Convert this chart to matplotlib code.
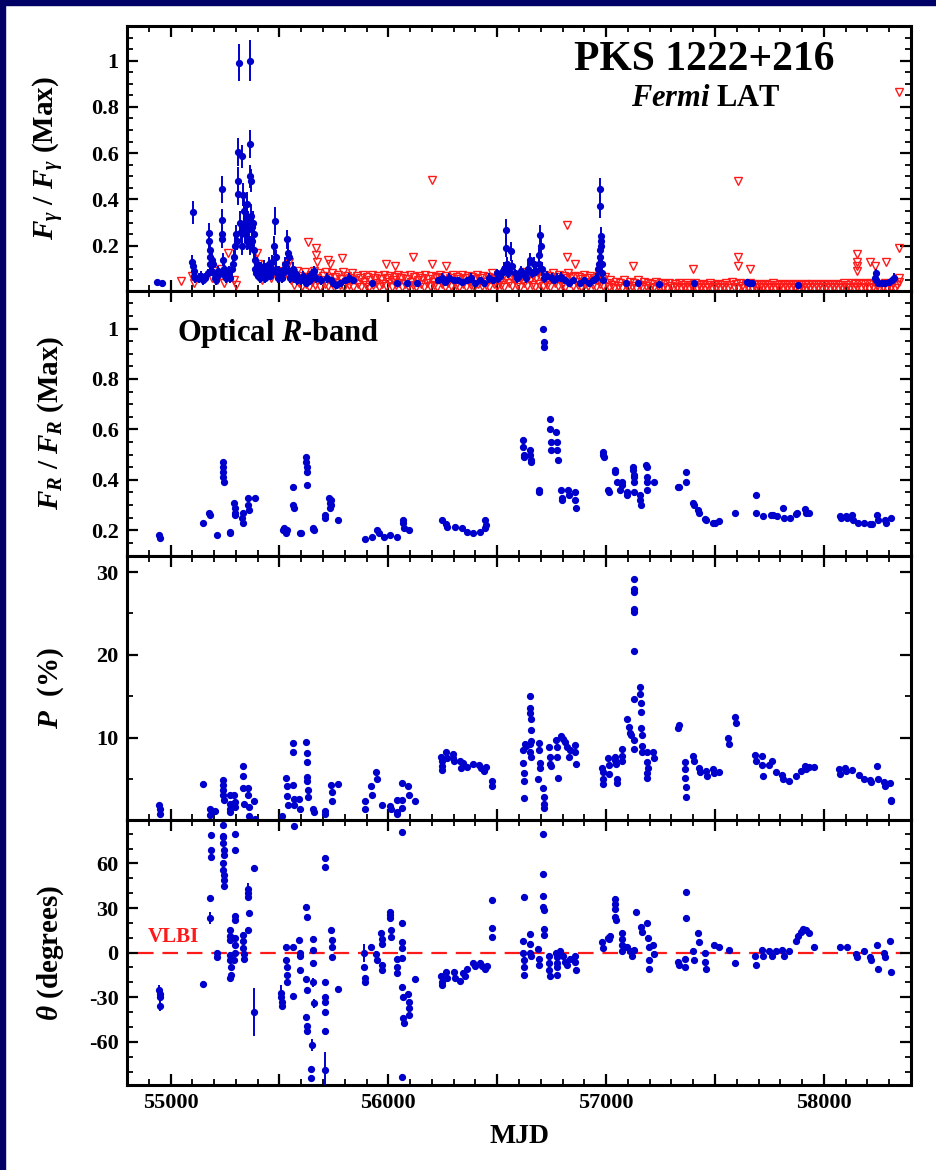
import numpy as np
import matplotlib
matplotlib.use("Agg")
import matplotlib.pyplot as plt
from matplotlib.ticker import MultipleLocator, FixedLocator, FuncFormatter
from matplotlib.patches import Rectangle

# ---- data ----
# Fermi LAT detections: (MJD, F/Fmax, error)
gamma_det = [
    (54936, 0.042, 0.008), (54962, 0.040, 0.008),
    (55100, 0.13, 0.03), (55103, 0.11, 0.03), (55104, 0.345, 0.05), (55106, 0.09, 0.02),
    (55108, 0.07, 0.02), (55112, 0.06, 0.02), (55130, 0.06, 0.02), (55140, 0.07, 0.02),
    (55150, 0.05, 0.02), (55160, 0.06, 0.02), (55170, 0.08, 0.02), (55177, 0.256, 0.04),
    (55178, 0.22, 0.03), (55179, 0.18, 0.03), (55180, 0.15, 0.03), (55182, 0.12, 0.03),
    (55186, 0.09, 0.02), (55192, 0.14, 0.03), (55196, 0.12, 0.03), (55200, 0.08, 0.02),
    (55205, 0.06, 0.02), (55210, 0.05, 0.02), (55215, 0.07, 0.02), (55220, 0.09, 0.02),
    (55225, 0.08, 0.02), (55234, 0.443, 0.06), (55234, 0.31, 0.05), (55236, 0.25, 0.04),
    (55237, 0.23, 0.04), (55240, 0.14, 0.03), (55245, 0.10, 0.03), (55250, 0.07, 0.02),
    (55255, 0.06, 0.02), (55260, 0.08, 0.02), (55265, 0.07, 0.02), (55270, 0.09, 0.02),
    (55275, 0.06, 0.02), (55280, 0.10, 0.03), (55285, 0.12, 0.03), (55290, 0.15, 0.03),
    (55295, 0.20, 0.04), (55300, 0.25, 0.04), (55305, 0.22, 0.04), (55308, 0.606, 0.06),
    (55311, 0.479, 0.06), (55311, 0.424, 0.05), (55314, 0.99, 0.08), (55318, 0.30, 0.05),
    (55322, 0.26, 0.04), (55326, 0.20, 0.04), (55330, 0.587, 0.05), (55332, 0.42, 0.05),
    (55335, 0.28, 0.04), (55338, 0.35, 0.05), (55341, 0.30, 0.04), (55344, 0.25, 0.04),
    (55347, 0.32, 0.05), (55350, 0.22, 0.04), (55353, 0.38, 0.05), (55356, 0.30, 0.05),
    (55360, 0.27, 0.04), (55363, 0.20, 0.04), (55365, 1.00, 0.09), (55366, 0.641, 0.06),
    (55367, 0.50, 0.05), (55369, 0.48, 0.05), (55370, 0.33, 0.05), (55372, 0.28, 0.04),
    (55375, 0.22, 0.04), (55378, 0.30, 0.05), (55381, 0.18, 0.04), (55384, 0.25, 0.04),
    (55387, 0.14, 0.03), (55390, 0.10, 0.03), (55393, 0.08, 0.02), (55396, 0.12, 0.03),
    (55400, 0.07, 0.02), (55405, 0.09, 0.02), (55410, 0.06, 0.02), (55415, 0.10, 0.03),
    (55420, 0.08, 0.02), (55425, 0.07, 0.02), (55430, 0.11, 0.03), (55435, 0.06, 0.02),
    (55440, 0.09, 0.02), (55445, 0.08, 0.02), (55450, 0.12, 0.03), (55455, 0.07, 0.02),
    (55460, 0.10, 0.03), (55465, 0.13, 0.03), (55470, 0.09, 0.02), (55475, 0.20, 0.04),
    (55479, 0.306, 0.06), (55482, 0.15, 0.03), (55485, 0.10, 0.03), (55490, 0.08, 0.02),
    (55495, 0.06, 0.02), (55500, 0.09, 0.02), (55505, 0.07, 0.02), (55510, 0.06, 0.02),
    (55515, 0.08, 0.02), (55520, 0.10, 0.03), (55525, 0.12, 0.03), (55533, 0.227, 0.04),
    (55538, 0.17, 0.04), (55542, 0.15, 0.03), (55546, 0.09, 0.02), (55550, 0.06, 0.02),
    (55555, 0.07, 0.02), (55560, 0.10, 0.03), (55565, 0.06, 0.02), (55570, 0.08, 0.02),
    (55580, 0.05, 0.02), (55590, 0.06, 0.02), (55600, 0.05, 0.02), (55610, 0.07, 0.02),
    (55620, 0.04, 0.01), (55630, 0.06, 0.02), (55640, 0.05, 0.02), (55650, 0.08, 0.02),
    (55660, 0.09, 0.02), (55670, 0.06, 0.02), (55690, 0.05, 0.02), (55720, 0.06, 0.02),
    (55735, 0.05, 0.01), (55745, 0.04, 0.01), (55760, 0.03, 0.01), (55780, 0.04, 0.01),
    (55800, 0.05, 0.01), (55820, 0.06, 0.02), (55840, 0.05, 0.01), (55924, 0.04, 0.01),
    (56040, 0.038, 0.01), (56087, 0.037, 0.01), (56132, 0.04, 0.01), (56230, 0.05, 0.01),
    (56245, 0.06, 0.02), (56260, 0.045, 0.01), (56280, 0.06, 0.02), (56300, 0.05, 0.01),
    (56320, 0.05, 0.01), (56340, 0.045, 0.01), (56360, 0.05, 0.01), (56380, 0.06, 0.02),
    (56400, 0.04, 0.01), (56420, 0.05, 0.01), (56440, 0.04, 0.01), (56460, 0.06, 0.02),
    (56480, 0.05, 0.01), (56498, 0.08, 0.02), (56505, 0.06, 0.02), (56515, 0.07, 0.02),
    (56525, 0.09, 0.02), (56530, 0.10, 0.03), (56540, 0.267, 0.05), (56541, 0.19, 0.04),
    (56545, 0.12, 0.03), (56550, 0.08, 0.02), (56556, 0.10, 0.03), (56563, 0.175, 0.04),
    (56570, 0.11, 0.03), (56580, 0.08, 0.02), (56590, 0.06, 0.02), (56600, 0.07, 0.02),
    (56610, 0.09, 0.02), (56620, 0.08, 0.02), (56630, 0.06, 0.02), (56640, 0.10, 0.03),
    (56650, 0.14, 0.03), (56660, 0.08, 0.02), (56669, 0.12, 0.03), (56680, 0.09, 0.02),
    (56690, 0.16, 0.03), (56693, 0.12, 0.03), (56697, 0.248, 0.04), (56699, 0.20, 0.04),
    (56705, 0.10, 0.03), (56715, 0.06, 0.02), (56730, 0.07, 0.02), (56750, 0.06, 0.02),
    (56760, 0.05, 0.01), (56775, 0.06, 0.02), (56794, 0.065, 0.02), (56810, 0.05, 0.01),
    (56830, 0.04, 0.01), (56850, 0.05, 0.01), (56880, 0.04, 0.01), (56900, 0.05, 0.01),
    (56920, 0.04, 0.01), (56940, 0.05, 0.01), (56955, 0.06, 0.02), (56965, 0.10, 0.03),
    (56968, 0.12, 0.03), (56970, 0.15, 0.03), (56972, 0.18, 0.04), (56973, 0.443, 0.05),
    (56974, 0.37, 0.05), (56975, 0.24, 0.04), (56976, 0.22, 0.04), (56977, 0.20, 0.04),
    (56979, 0.12, 0.03), (56982, 0.08, 0.02), (56986, 0.05, 0.01), (57090, 0.04, 0.01),
    (57146, 0.038, 0.01), (57245, 0.035, 0.01), (57402, 0.038, 0.01), (57647, 0.045, 0.01),
    (57655, 0.04, 0.01), (57670, 0.04, 0.01), (57883, 0.03, 0.01), (58235, 0.06, 0.02),
    (58237, 0.08, 0.02), (58240, 0.05, 0.01), (58250, 0.04, 0.01), (58265, 0.04, 0.01),
    (58280, 0.04, 0.01), (58300, 0.045, 0.01), (58315, 0.05, 0.01), (58321, 0.06, 0.02),
]

# Fermi LAT upper limits: (MJD, F/Fmax)
gamma_ul = [
    (55050, 0.047), (55100, 0.07), (55106, 0.04), (55190, 0.06), (55200, 0.09), (55215, 0.05),
    (55230, 0.10), (55245, 0.04), (55255, 0.08), (55265, 0.17), (55275, 0.09), (55290, 0.05),
    (55300, 0.03), (55395, 0.17), (55400, 0.12), (55410, 0.08), (55420, 0.05), (55440, 0.10),
    (55460, 0.06), (55490, 0.09), (55520, 0.07), (55530, 0.11), (55545, 0.13),
    (55632, 0.217), (55668, 0.19), (55670, 0.16), (55672, 0.13), (55725, 0.14), (55732, 0.12),
    (55786, 0.145), (55989, 0.12), (56032, 0.11), (56115, 0.15), (56200, 0.486), (56200, 0.12),
    (56265, 0.11), (56820, 0.289), (56820, 0.15), (56857, 0.12), (57123, 0.11), (57400, 0.10),
    (57606, 0.479), (57606, 0.15), (57606, 0.11), (57661, 0.10), (58150, 0.162), (58150, 0.13),
    (58152, 0.11), (58150, 0.09), (58214, 0.13), (58236, 0.11), (58283, 0.13), (58344, 0.863),
    (58344, 0.19), (58347, 0.06),
    (55552, 0.05), (55560, 0.08), (55567, 0.03), (55574, 0.06), (55581, 0.09), (55588, 0.04),
    (55595, 0.07), (55602, 0.025), (55609, 0.055), (55616, 0.085), (55623, 0.035), (55630, 0.065),
    (55637, 0.02), (55644, 0.075), (55651, 0.045), (55658, 0.09), (55665, 0.03), (55672, 0.06),
    (55679, 0.08), (55686, 0.02), (55693, 0.05), (55700, 0.07), (55707, 0.035), (55714, 0.085),
    (55721, 0.025), (55728, 0.06), (55735, 0.045), (55742, 0.08), (55749, 0.02), (55756, 0.065),
    (55763, 0.04), (55770, 0.075), (55777, 0.03), (55784, 0.055), (55791, 0.085), (55798, 0.02),
    (55805, 0.045), (55812, 0.07), (55819, 0.03), (55826, 0.06), (55833, 0.08), (55840, 0.02),
    (55847, 0.05), (55854, 0.07), (55861, 0.035), (55868, 0.06), (55875, 0.02), (55882, 0.075),
    (55889, 0.045), (55896, 0.03), (55903, 0.065), (55910, 0.02), (55917, 0.05), (55924, 0.075),
    (55931, 0.03), (55938, 0.06), (55945, 0.04), (55952, 0.07), (55959, 0.02), (55966, 0.055),
    (55973, 0.035), (55980, 0.075), (55987, 0.025), (55994, 0.06), (56001, 0.045), (56008, 0.07),
    (56015, 0.02), (56022, 0.05), (56029, 0.065), (56036, 0.03), (56043, 0.075), (56050, 0.04),
    (56057, 0.06), (56064, 0.02), (56071, 0.07), (56078, 0.035), (56085, 0.055), (56092, 0.025),
    (56099, 0.075), (56106, 0.045), (56113, 0.03), (56120, 0.065), (56127, 0.02), (56134, 0.05),
    (56141, 0.07), (56148, 0.035), (56155, 0.06), (56162, 0.02), (56169, 0.075), (56176, 0.04),
    (56183, 0.055), (56190, 0.025), (56197, 0.07), (56204, 0.045), (56211, 0.03), (56218, 0.065),
    (56225, 0.02), (56232, 0.06), (56239, 0.075), (56246, 0.035), (56253, 0.05), (56260, 0.02),
    (56267, 0.07), (56274, 0.04), (56281, 0.06), (56288, 0.025), (56295, 0.075), (56302, 0.045),
    (56309, 0.03), (56316, 0.065), (56323, 0.02), (56330, 0.055), (56337, 0.075), (56344, 0.035),
    (56351, 0.06), (56358, 0.02), (56365, 0.07), (56372, 0.045), (56379, 0.03), (56386, 0.065),
    (56393, 0.02), (56400, 0.055), (56407, 0.075), (56414, 0.035), (56421, 0.06), (56428, 0.025),
    (56435, 0.07), (56442, 0.045), (56449, 0.03), (56456, 0.065), (56463, 0.02), (56470, 0.055),
    (56477, 0.08), (56484, 0.035), (56491, 0.06), (56498, 0.025), (56505, 0.075), (56512, 0.045),
    (56519, 0.03), (56526, 0.07), (56533, 0.02), (56540, 0.06), (56547, 0.08), (56554, 0.04),
    (56561, 0.065), (56568, 0.025), (56575, 0.075), (56582, 0.05), (56589, 0.03), (56596, 0.07),
    (56603, 0.02), (56610, 0.06), (56617, 0.085), (56624, 0.04), (56631, 0.065), (56638, 0.025),
    (56645, 0.075), (56652, 0.05), (56659, 0.03), (56666, 0.07), (56673, 0.02), (56680, 0.06),
    (56687, 0.08), (56694, 0.035), (56701, 0.065), (56708, 0.025), (56715, 0.075), (56722, 0.045),
    (56729, 0.03), (56736, 0.07), (56743, 0.02), (56750, 0.06), (56757, 0.08), (56764, 0.04),
    (56771, 0.065), (56778, 0.025), (56785, 0.075), (56792, 0.05), (56799, 0.03), (56806, 0.07),
    (56813, 0.02), (56820, 0.06), (56827, 0.08), (56834, 0.04), (56841, 0.065), (56848, 0.025),
    (56855, 0.07), (56862, 0.045), (56869, 0.03), (56876, 0.065), (56883, 0.02), (56890, 0.055),
    (56897, 0.075), (56904, 0.035), (56911, 0.06), (56918, 0.025), (56925, 0.07), (56932, 0.045),
    (56939, 0.03), (56946, 0.06), (56953, 0.02), (56960, 0.05), (56967, 0.07), (56974, 0.035),
    (56981, 0.055), (56988, 0.025), (56995, 0.065),
    (57002, 0.04), (57011, 0.02), (57020, 0.05), (57029, 0.03), (57038, 0.015), (57047, 0.045),
    (57056, 0.025), (57065, 0.04), (57074, 0.015), (57083, 0.05), (57092, 0.03), (57101, 0.02),
    (57110, 0.045), (57119, 0.025), (57128, 0.04), (57137, 0.015), (57146, 0.05), (57155, 0.03),
    (57164, 0.02), (57173, 0.045), (57182, 0.025), (57191, 0.04), (57200, 0.015), (57209, 0.035),
    (57218, 0.02), (57227, 0.045), (57236, 0.025), (57245, 0.015), (57254, 0.04), (57263, 0.02),
    (57272, 0.035), (57281, 0.015), (57290, 0.04), (57299, 0.025), (57308, 0.015), (57317, 0.035),
    (57326, 0.02), (57335, 0.04), (57344, 0.015), (57353, 0.03), (57362, 0.02), (57371, 0.04),
    (57380, 0.015), (57389, 0.03), (57398, 0.02), (57407, 0.04), (57416, 0.015), (57425, 0.03),
    (57434, 0.02), (57443, 0.035), (57452, 0.015), (57461, 0.03), (57470, 0.02), (57479, 0.04),
    (57488, 0.015), (57497, 0.03), (57506, 0.02), (57515, 0.035), (57524, 0.015), (57533, 0.03),
    (57542, 0.02), (57551, 0.04), (57560, 0.015), (57569, 0.03), (57578, 0.045), (57587, 0.02),
    (57596, 0.035), (57605, 0.015), (57614, 0.04), (57623, 0.025), (57632, 0.015), (57641, 0.035),
    (57650, 0.02), (57659, 0.04), (57668, 0.015), (57677, 0.03), (57686, 0.02), (57695, 0.035),
    (57704, 0.015), (57713, 0.03), (57722, 0.02), (57731, 0.035), (57740, 0.015), (57749, 0.03),
    (57758, 0.02), (57767, 0.04), (57776, 0.015), (57785, 0.03), (57794, 0.02), (57803, 0.035),
    (57812, 0.015), (57821, 0.03), (57830, 0.02), (57839, 0.035), (57848, 0.015), (57857, 0.03),
    (57866, 0.02), (57875, 0.035), (57884, 0.015), (57893, 0.03), (57902, 0.02), (57911, 0.035),
    (57920, 0.015), (57929, 0.03), (57938, 0.02), (57947, 0.035), (57956, 0.015), (57965, 0.03),
    (57974, 0.02), (57983, 0.035), (57992, 0.015), (58001, 0.03), (58010, 0.02), (58019, 0.035),
    (58028, 0.015), (58037, 0.03), (58046, 0.02), (58055, 0.035), (58064, 0.015), (58073, 0.03),
    (58082, 0.02), (58091, 0.04), (58100, 0.015), (58109, 0.03), (58118, 0.02), (58127, 0.04),
    (58136, 0.015), (58145, 0.035), (58154, 0.02), (58163, 0.04), (58172, 0.015), (58181, 0.035),
    (58190, 0.02), (58199, 0.04), (58208, 0.015), (58217, 0.035), (58226, 0.02), (58235, 0.04),
    (58244, 0.025), (58253, 0.015), (58262, 0.035), (58271, 0.02), (58280, 0.04), (58289, 0.015),
    (58298, 0.035), (58307, 0.02), (58316, 0.04), (58325, 0.015), (58334, 0.03), (58343, 0.045),
]

# Optical R-band: (MJD, F/Fmax)
optical = [
    (54948, 0.18), (54952, 0.17), (55150, 0.23), (55178, 0.27), (55182, 0.26), (55211, 0.18),
    (55240, 0.47), (55241, 0.45), (55242, 0.43), (55243, 0.41), (55244, 0.39),
    (55271, 0.195), (55274, 0.19), (55293, 0.31), (55294, 0.29), (55296, 0.27), (55297, 0.26),
    (55329, 0.25), (55331, 0.23), (55333, 0.27), (55355, 0.33), (55357, 0.30), (55359, 0.28),
    (55387, 0.33), (55515, 0.20), (55520, 0.21), (55530, 0.19), (55534, 0.20),
    (55561, 0.37), (55563, 0.30), (55565, 0.29), (55594, 0.19), (55597, 0.19),
    (55623, 0.49), (55624, 0.47), (55625, 0.45), (55626, 0.43), (55628, 0.38),
    (55652, 0.21), (55656, 0.205), (55660, 0.20), (55707, 0.26), (55711, 0.25),
    (55729, 0.33), (55731, 0.31), (55733, 0.29), (55735, 0.32), (55737, 0.30), (55770, 0.24),
    (55893, 0.165), (55924, 0.175), (55950, 0.20), (55955, 0.19), (55978, 0.175), (56009, 0.18),
    (56040, 0.175), (56066, 0.24), (56068, 0.23), (56071, 0.21), (56093, 0.20),
    (56245, 0.24), (56266, 0.225), (56270, 0.215), (56307, 0.215), (56338, 0.21), (56360, 0.195),
    (56391, 0.19), (56421, 0.195), (56442, 0.21), (56445, 0.24), (56448, 0.22),
    (56619, 0.56), (56620, 0.53), (56622, 0.49), (56624, 0.50),
    (56649, 0.52), (56651, 0.50), (56653, 0.47), (56655, 0.48), (56691, 0.36), (56694, 0.35),
    (56712, 1.00), (56713, 0.945), (56714, 0.925),
    (56741, 0.64), (56743, 0.60), (56745, 0.55), (56746, 0.52),
    (56772, 0.59), (56774, 0.55), (56776, 0.52), (56777, 0.48),
    (56795, 0.36), (56797, 0.33), (56799, 0.32), (56825, 0.36), (56829, 0.34),
    (56856, 0.35), (56858, 0.32), (56860, 0.29),
    (56986, 0.51), (56988, 0.50), (56990, 0.49), (57009, 0.36), (57013, 0.35),
    (57040, 0.44), (57043, 0.43), (57049, 0.39), (57065, 0.36), (57071, 0.39), (57075, 0.38),
    (57094, 0.35), (57098, 0.34),
    (57124, 0.45), (57125, 0.44), (57126, 0.42), (57127, 0.41), (57128, 0.39), (57129, 0.35),
    (57155, 0.34), (57157, 0.32), (57160, 0.30),
    (57185, 0.46), (57187, 0.45), (57188, 0.41), (57189, 0.39), (57190, 0.36), (57218, 0.39),
    (57331, 0.37), (57335, 0.37), (57367, 0.43), (57369, 0.39), (57400, 0.31), (57404, 0.30),
    (57423, 0.28), (57427, 0.27), (57454, 0.245), (57458, 0.24), (57492, 0.23), (57500, 0.23),
    (57517, 0.235), (57594, 0.27), (57686, 0.34), (57690, 0.27), (57721, 0.255), (57755, 0.26),
    (57765, 0.26), (57785, 0.255), (57813, 0.29), (57817, 0.25), (57846, 0.25), (57870, 0.265),
    (57877, 0.27), (57912, 0.285), (57916, 0.27), (57930, 0.27),
    (58073, 0.255), (58078, 0.25), (58100, 0.255), (58107, 0.25), (58128, 0.26), (58132, 0.24),
    (58156, 0.23), (58183, 0.23), (58210, 0.225), (58220, 0.225), (58246, 0.26), (58250, 0.24),
    (58280, 0.24), (58285, 0.23), (58306, 0.25),
]

# Degree of polarization: (MJD, P %)
pol_deg = [
    (54949, 1.8), (54951, 1.3), (54953, 0.8), (55150, 4.35), (55179, 1.4), (55181, 0.6),
    (55204, 1.1), (55240, 4.9), (55241, 4.3), (55242, 3.6), (55243, 3.0), (55244, 2.4),
    (55271, 3.0), (55272, 2.0), (55274, 1.4), (55275, 1.0), (55293, 3.1), (55295, 2.2),
    (55297, 1.6), (55332, 6.5), (55333, 5.3), (55334, 3.9), (55336, 2.0), (55355, 3.9),
    (55357, 3.0), (55359, 1.6), (55358, 0.5), (55385, 2.3), (55388, 0.2), (55510, 0.5),
    (55531, 5.1), (55533, 4.1), (55535, 2.9), (55537, 1.9), (55561, 9.3), (55562, 8.3),
    (55564, 4.3), (55566, 2.6), (55568, 1.8), (55592, 2.6), (55596, 1.4),
    (55624, 9.5), (55625, 8.1), (55626, 7.0), (55627, 5.2), (55628, 4.7), (55629, 3.7),
    (55630, 2.8), (55652, 1.4), (55657, 1.0), (55707, 1.1), (55711, 0.8),
    (55738, 4.3), (55740, 3.4), (55742, 2.3), (55770, 4.35), (55891, 2.3), (55894, 1.3),
    (55922, 4.1), (55925, 3.1), (55945, 5.8), (55948, 5.0), (55970, 1.8), (56007, 1.7),
    (56011, 1.3), (56038, 2.4), (56040, 1.0), (56042, 0.8), (56061, 4.5), (56063, 2.5),
    (56065, 1.5), (56091, 4.2), (56094, 3.0), (56124, 2.3),
    (56243, 7.7), (56245, 7.2), (56246, 6.5), (56248, 6.1), (56266, 8.3), (56270, 7.5),
    (56296, 8.0), (56299, 7.5), (56302, 7.2), (56328, 7.2), (56332, 6.3), (56345, 6.9),
    (56360, 6.4), (56391, 6.8), (56415, 6.7), (56425, 6.3), (56440, 5.9), (56450, 6.4),
    (56474, 4.7), (56476, 4.2),
    (56619, 8.5), (56620, 6.9), (56621, 5.7), (56622, 4.7), (56623, 2.7), (56628, 9.2),
    (56630, 9.0), (56650, 15.0), (56651, 13.6), (56652, 13.0), (56653, 12.2), (56654, 10.9),
    (56655, 9.6), (56649, 9.2), (56652, 8.3), (56655, 7.7), (56688, 5.0), (56692, 9.3),
    (56694, 8.5), (56695, 6.9), (56697, 6.3), (56712, 3.9), (56713, 2.8), (56714, 2.0),
    (56715, 1.5), (56740, 8.8), (56742, 7.6), (56744, 6.8), (56746, 6.5),
    (56772, 9.7), (56774, 8.9), (56776, 7.6), (56778, 5.1), (56795, 10.2), (56800, 9.8),
    (56810, 9.5), (56820, 8.8), (56833, 8.5), (56828, 7.6), (56856, 9.1), (56858, 8.3),
    (56860, 6.8), (56983, 6.3), (56985, 5.8), (56986, 5.0), (56988, 4.4),
    (57009, 7.5), (57011, 6.7), (57013, 5.6), (57040, 7.7), (57043, 7.3), (57046, 6.8),
    (57049, 5.0), (57051, 4.5), (57071, 8.6), (57073, 7.8), (57075, 7.2), (57096, 12.2),
    (57106, 11.3), (57110, 10.6), (57115, 10.3), (57126, 29.1), (57127, 28.0), (57128, 27.6),
    (57126, 25.5), (57127, 25.2), (57128, 20.5), (57128, 14.7), (57129, 9.7), (57130, 8.6),
    (57155, 16.1), (57157, 15.3), (57158, 14.2), (57159, 13.1), (57162, 11.2), (57164, 10.3),
    (57165, 9.0), (57166, 8.3), (57186, 8.3), (57188, 7.1), (57189, 5.7), (57190, 5.1),
    (57192, 6.3), (57216, 8.2), (57220, 7.5),
    (57331, 11.2), (57335, 11.5), (57362, 7.0), (57363, 6.2), (57364, 5.1), (57365, 4.0),
    (57366, 2.8), (57400, 7.8), (57404, 7.2), (57427, 6.3), (57431, 5.8), (57458, 5.9),
    (57462, 5.3), (57492, 6.2), (57496, 5.7), (57517, 5.8), (57561, 9.9), (57564, 9.2),
    (57592, 12.5), (57596, 11.8), (57684, 7.9), (57688, 7.2), (57715, 7.8), (57717, 6.7),
    (57719, 5.3), (57747, 6.7), (57762, 7.2), (57778, 5.8), (57806, 5.5), (57810, 5.0),
    (57839, 4.7), (57870, 5.4), (57893, 5.9), (57913, 6.6), (57917, 6.2), (57930, 6.4),
    (57953, 6.4), (58071, 6.2), (58075, 5.6), (58098, 6.3), (58102, 6.0), (58130, 6.1),
    (58160, 5.5), (58186, 5.0), (58212, 4.9), (58216, 4.6), (58246, 6.6), (58250, 5.0),
    (58276, 4.6), (58280, 4.2), (58304, 4.5), (58306, 2.5), (58308, 2.3),
]

# EVPA: (MJD, theta deg, error)
pol_ang = [
    (54949, -25, 3), (54950, -28, 3), (54951, -30, 3), (54952, -36, 3), (55150, -21, 2),
    (55181, 37, 2), (55181, 23.4, 4), (55184, 79, 2), (55184, 69, 2), (55185, 64.4, 2),
    (55211, 0, 2), (55212, -3, 2),
    (55240, 86, 2), (55241, 78.6, 2), (55242, 77.7, 2), (55243, 73.6, 2), (55244, 69, 2),
    (55245, 65.6, 2), (55241, 60, 2), (55243, 55.5, 2), (55244, 52, 2), (55245, 48.8, 2),
    (55246, 45, 2), (55271, 15, 2), (55272, 11, 2), (55273, 8.5, 2), (55274, -1.7, 2),
    (55275, -5, 2), (55276, -9.9, 2), (55277, -15, 2), (55273, -17, 2), (55294, 80, 2),
    (55296, 69, 2), (55295, 24.5, 2), (55296, 22, 2), (55294, 10, 2), (55297, 5, 2),
    (55298, 0, 2), (55293, -5, 2), (55332, 12, 2), (55333, 8, 2), (55334, 3, 2),
    (55335, -1, 2), (55336, -4, 2), (55355, 43, 4), (55356, 40, 2), (55357, 37.3, 2),
    (55358, 26.6, 2), (55354, 15, 2), (55385, 56.6, 2), (55385, -40, 16),
    (55508, -27, 5), (55509, -30, 2), (55510, -33, 2), (55511, -36, 2), (55531, 4, 2),
    (55532, -5, 2), (55533, -10, 2), (55534, -15, 2), (55536, -20, 2), (55563, 4, 2),
    (55565, 85.3, 2), (55562, -29, 2), (55592, 8.8, 2), (55594, 0, 2), (55595, -2, 2),
    (55596, -12, 2), (55623, 30.8, 2), (55625, 24, 2), (55624, -18, 2), (55626, -25, 2),
    (55624, -43, 2), (55625, -49, 2), (55626, -53, 2), (55648, -62, 4), (55646, -78, 2),
    (55647, -84.6, 2), (55653, 9, 2), (55654, 2, 2), (55655, -7, 2), (55656, -20, 3),
    (55657, -34, 3), (55707, 63.4, 2), (55708, 57.7, 2), (55707, -20, 2), (55708, -30, 2),
    (55709, -33, 2), (55710, -40, 2), (55711, -53, 2), (55709, -79, 12),
    (55738, 15, 2), (55740, 8.5, 2), (55741, 3.5, 2), (55742, -3, 2), (55770, -24.5, 2),
    (55889, 0, 6), (55890, -10, 2), (55891, -17, 2), (55892, -20, 2), (55922, 4, 2),
    (55945, -1, 2), (55948, -5, 2), (55968, 13, 2), (55969, 9, 2), (55970, 5.5, 2),
    (55971, -8, 2), (55972, -12, 2), (56007, 27.4, 2), (56008, 25.3, 2), (56009, 23, 2),
    (56010, 15.2, 2), (56011, 10.5, 2), (56038, -4, 2), (56040, -10, 2), (56042, -14, 2),
    (56062, 81.3, 2), (56061, 20, 2), (56062, 7, 2), (56063, 3, 2), (56064, -3.5, 2),
    (56062, -23, 2), (56064, -83.5, 2), (56067, -30, 2), (56069, -44, 2), (56071, -47, 2),
    (56091, -28, 2), (56093, -33, 2), (56094, -37, 2), (56096, -42, 2), (56124, -18, 2),
    (56243, -16, 2), (56245, -20, 2), (56246, -22, 2), (56266, -13, 2), (56270, -17, 2),
    (56300, -13, 2), (56307, -17, 2), (56330, -19, 2), (56345, -14, 2), (56350, -16, 2),
    (56360, -11, 2), (56391, -7, 2), (56400, -9, 2), (56421, -7, 2), (56430, -9, 2),
    (56445, -11, 2), (56452, -9, 2), (56475, 35.3, 2), (56475, 16.3, 2), (56476, 10.6, 2),
    (56621, 37.5, 2), (56619, 7.6, 2), (56620, 0, 2), (56621, -5, 2), (56622, -10, 2),
    (56623, -15, 2), (56649, 12.5, 2), (56651, 6, 2), (56652, 0, 2), (56654, -2, 2),
    (56688, 2.2, 2), (56690, -4, 2), (56692, -8, 2), (56710, 79.7, 2), (56710, 52.6, 2),
    (56711, 38.4, 2), (56712, 31, 2), (56713, 28.6, 2), (56714, 16, 2), (56715, 12, 2),
    (56737, -2, 2), (56739, -7, 2), (56740, -12, 2), (56741, -16, 2), (56772, 0, 2),
    (56773, -3, 2), (56774, -7, 2), (56775, -10, 2), (56776, -15, 2), (56790, 1, 2),
    (56800, -2, 2), (56810, -6, 2), (56820, -8, 2), (56835, -4, 2), (56856, -2, 2),
    (56858, -6, 2), (56860, -12, 2), (56983, 7, 2), (56986, 3, 2), (57009, 10, 2),
    (57013, 9, 2), (57019, 11, 2), (57040, 36, 2), (57041, 33, 2), (57042, 29, 2),
    (57043, 24, 2), (57044, 22, 2), (57071, 13, 2), (57073, 9, 2), (57074, 5, 2),
    (57075, 1, 2), (57096, 4, 2), (57110, 1, 2), (57120, -2, 2), (57126, 2, 2),
    (57138, 27, 2), (57162, 17, 2), (57166, 14, 2), (57190, 20, 2), (57193, 10, 2),
    (57195, 4, 2), (57196, -5, 2), (57197, -11, 2), (57216, 5, 2), (57220, -1, 2),
    (57331, -6, 2), (57335, -8, 2), (57368, 41, 2), (57368, 23, 2), (57362, -4, 2),
    (57364, -10, 2), (57400, 1, 2), (57404, -5, 2), (57423, 13, 2), (57427, 7, 2),
    (57454, 0, 2), (57456, -6, 2), (57458, -11, 2), (57494, 5, 2), (57517, 4, 2),
    (57563, 2, 2), (57594, -7, 2), (57684, -2, 2), (57688, -8, 2), (57715, 2, 2),
    (57719, -2, 2), (57747, 1, 2), (57762, -2, 2), (57778, 1, 2), (57806, 2, 2),
    (57818, -2, 2), (57839, 1, 2), (57870, 8, 2), (57882, 11, 2), (57895, 14, 2),
    (57905, 16, 2), (57920, 15, 2), (57930, 13, 2), (57953, 4, 2), (58073, 4, 2),
    (58107, 4, 2), (58148, -1, 2), (58152, -3, 2), (58186, 1, 2), (58212, -3, 2),
    (58216, -5, 2), (58246, 5, 2), (58250, -11, 2), (58276, 0, 2), (58280, -3, 2),
    (58304, 8, 2), (58308, -13, 2),
]

vlbi_angle = 0

# ---- style ----
plt.rcParams['font.family'] = ['Liberation Serif', 'DejaVu Serif']
plt.rcParams['font.weight'] = 'bold'
plt.rcParams['axes.labelweight'] = 'bold'
plt.rcParams['mathtext.fontset'] = 'custom'
plt.rcParams['mathtext.rm'] = 'Liberation Serif:bold'
plt.rcParams['mathtext.it'] = 'Liberation Serif:italic:bold'
plt.rcParams['mathtext.bf'] = 'Liberation Serif:bold'
plt.rcParams['axes.unicode_minus'] = False

BLUE = '#0000cc'
RED = '#ff1a1a'
NAVY = '#000066'

fig = plt.figure(figsize=(9.36, 11.7), dpi=100)
fig.patches.append(Rectangle((0, 1 - 5 / 1170), 1, 5 / 1170, transform=fig.transFigure,
                             color=NAVY, zorder=10))
fig.patches.append(Rectangle((0, 0), 5 / 936, 1, transform=fig.transFigure,
                             color=NAVY, zorder=10))

axes = fig.subplots(4, 1, sharex=True)
fig.subplots_adjust(left=127 / 936, right=911 / 936, bottom=1 - 1085 / 1170,
                    top=1 - 26 / 1170, hspace=0)
ax1, ax2, ax3, ax4 = axes

g = np.array(gamma_det)
u = np.array(gamma_ul)
o = np.array(optical)
p = np.array(pol_deg)
t = np.array(pol_ang)

# gamma rays
ax1.plot(u[:, 0], u[:, 1], 'v', mfc='none', mec=RED, ms=6, mew=1.0, zorder=2)
ax1.errorbar(g[:, 0], g[:, 1], yerr=g[:, 2], fmt='o', color=BLUE, ms=4.2,
             elinewidth=1.4, capsize=0, zorder=3)
ax1.set_ylim(0.005, 1.15)
ax1.yaxis.set_major_locator(MultipleLocator(0.2))
ax1.yaxis.set_minor_locator(MultipleLocator(0.05))
ax1.set_ylabel(r'$F_{\gamma}$ / $F_{\gamma}$ (Max)', fontsize=21)
ax1.text(0.736, 0.834, 'PKS 1222+216', transform=ax1.transAxes, ha='center',
         va='baseline', fontsize=30)
ax1.text(0.738, 0.698, r'$Fermi$ LAT', transform=ax1.transAxes, ha='center',
         va='baseline', fontsize=22)

# optical
ax2.plot(o[:, 0], o[:, 1], 'o', color=BLUE, ms=4.2)
ax2.set_ylim(0.1, 1.15)
ax2.yaxis.set_major_locator(MultipleLocator(0.2))
ax2.yaxis.set_minor_locator(MultipleLocator(0.05))
ax2.set_ylabel(r'$F_R$ / $F_R$ (Max)', fontsize=21)
ax2.text(0.064, 0.809, r'Optical $R$-band', transform=ax2.transAxes, ha='left',
         va='baseline', fontsize=22)

# polarization degree
ax3.plot(p[:, 0], p[:, 1], 'o', color=BLUE, ms=4.2)
ax3.set_ylim(0, 32)
ax3.yaxis.set_major_locator(FixedLocator([10, 20, 30]))
ax3.yaxis.set_minor_locator(FixedLocator([5, 15, 25]))
ax3.set_ylabel(r'$P$  (%)', fontsize=21)

# polarization angle
ax4.plot([54850, 58360], [vlbi_angle, vlbi_angle], color=RED, lw=1.6,
         dashes=(7, 4), zorder=1)
ax4.errorbar(t[:, 0], t[:, 1], yerr=t[:, 2], fmt='o', color=BLUE, ms=4.2,
             elinewidth=1.4, capsize=0, zorder=3)
ax4.text(54896, 4, 'VLBI', color=RED, fontsize=15, ha='left', va='bottom')
ax4.set_ylim(-89, 89)
ax4.yaxis.set_major_locator(MultipleLocator(30))
ax4.yaxis.set_minor_locator(MultipleLocator(10))
ax4.set_ylabel(r'$\theta$ (degrees)', fontsize=21)

ax4.set_xlim(54800, 58400)
ax4.xaxis.set_major_locator(MultipleLocator(500))
ax4.xaxis.set_minor_locator(MultipleLocator(100))

fmt_g = FuncFormatter(lambda v, pos: f'{v:g}')
for ax in axes:
    for s in ax.spines.values():
        s.set_linewidth(2.2)
    ax.tick_params(which='both', direction='in', top=True, right=True, labelsize=16, pad=6)
    ax.tick_params(which='major', length=8, width=1.6)
    ax.tick_params(which='minor', length=4.5, width=1.3)
    ax.yaxis.set_major_formatter(fmt_g)
    ax.yaxis.set_label_coords(-0.078, 0.5)
ax4.xaxis.set_major_formatter(FuncFormatter(lambda v, pos: f'{int(v)}' if v % 1000 == 0 else ''))

fig.text(519 / 936, 1 - 1143 / 1170, 'MJD', ha='center', va='baseline', fontsize=20)

fig.savefig('out.png', dpi=100)
